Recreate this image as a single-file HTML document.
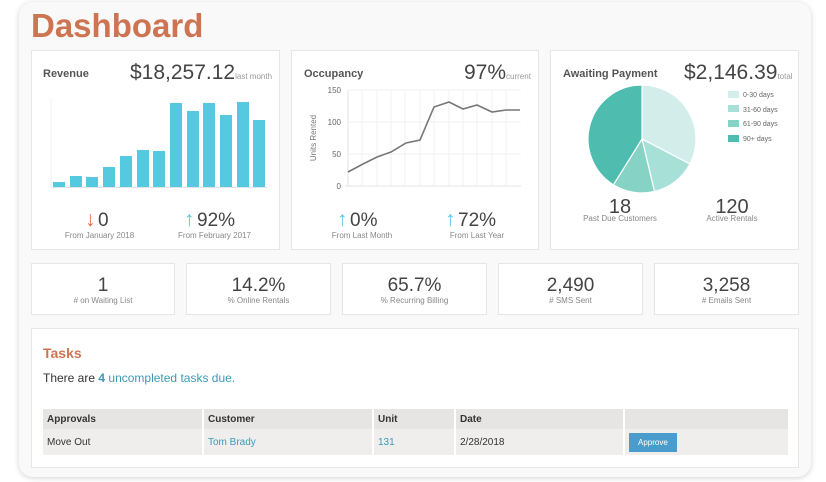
<!DOCTYPE html>
<html><head><style>
body{margin:0;width:826px;height:482px;background:#fff;font-family:"Liberation Sans",sans-serif;position:relative;overflow:hidden}
.frame{position:absolute;left:19px;top:2px;width:792px;height:475px;background:#f9f9f9;border-radius:14px;box-shadow:0 1px 6px rgba(0,0,0,.18)}
h1{position:absolute;left:31px;top:7px;margin:0;font-size:33px;color:#cd7453;font-weight:bold}
.card{position:absolute;background:#fff;border:1px solid #e6e6e6;box-sizing:border-box}
.t{position:absolute;font-size:11px;font-weight:bold;color:#555}
.big{position:absolute;font-size:21px;color:#444}
.big small{font-size:8px;color:#999}
.lbl{position:absolute;font-size:8px;color:#888;text-align:center}
.stat{position:absolute;text-align:center;width:100%;}
.stat b{display:block;font-weight:normal;font-size:19px;line-height:20px;color:#444;margin-top:12px}
.stat span{font-size:8px;color:#888;line-height:10px;display:block}
td,th{font-size:10px;padding:0 4px;text-align:left;color:#333;border-right:2px solid #fff}
svg{position:absolute;overflow:visible}
</style></head><body>
<div class="frame"></div>
<h1>Dashboard</h1>

<div class="card" style="left:31px;top:50px;width:249px;height:200px">
<div class="t" style="left:11px;top:17px">Revenue</div>
<div class="big" style="left:98px;top:10px">$18,257.12<small>last month</small></div>
<svg style="left:-31px;top:-50px" width="826" height="250" font-family="Liberation Sans">
<line x1="50" y1="97" x2="50" y2="187" stroke="#f0f0f0"/><line x1="50" y1="186.5" x2="266" y2="186.5" stroke="#e4e4e4"/>
<g fill="#55c9e0">
<rect x="52" y="181" width="12" height="5"/><rect x="69" y="175" width="12" height="11"/><rect x="85" y="176" width="12" height="10"/><rect x="102" y="166" width="12" height="20"/><rect x="119" y="155" width="12" height="31"/><rect x="136" y="149" width="12" height="37"/><rect x="152" y="150" width="12" height="36"/><rect x="169" y="102" width="12" height="84"/><rect x="186" y="110" width="12" height="76"/><rect x="202" y="102" width="12" height="84"/><rect x="219" y="114" width="12" height="72"/><rect x="236" y="101" width="12" height="85"/><rect x="252" y="119" width="12" height="67"/></g>
<text x="84" y="225" font-size="21" fill="#e8674a">↓</text><text x="97" y="225" font-size="19" fill="#444">0</text>
<text x="183" y="225" font-size="21" fill="#55c9e0">↑</text><text x="196" y="225" font-size="19" fill="#444">92%</text>
</svg>
<div class="lbl" style="left:0;width:135px;top:180px">From January 2018</div>
<div class="lbl" style="left:125px;width:115px;top:180px">From February 2017</div>
</div>

<div class="card" style="left:291px;top:50px;width:248px;height:200px">
<div class="t" style="left:12px;top:17px">Occupancy</div>
<div class="big" style="left:172px;top:10px">97%<small>current</small></div>
<svg style="left:-291px;top:-50px" width="826" height="250" font-family="Liberation Sans">
<g stroke="#f2f2f2"><line x1="347" y1="89" x2="520" y2="89"/><line x1="347" y1="121" x2="520" y2="121"/><line x1="347" y1="153" x2="520" y2="153"/>
<line x1="361" y1="89" x2="361" y2="185"/><line x1="376" y1="89" x2="376" y2="185"/><line x1="390" y1="89" x2="390" y2="185"/><line x1="404" y1="89" x2="404" y2="185"/><line x1="419" y1="89" x2="419" y2="185"/><line x1="433" y1="89" x2="433" y2="185"/><line x1="448" y1="89" x2="448" y2="185"/><line x1="462" y1="89" x2="462" y2="185"/><line x1="476" y1="89" x2="476" y2="185"/><line x1="491" y1="89" x2="491" y2="185"/><line x1="505" y1="89" x2="505" y2="185"/></g>
<line x1="347" y1="89" x2="347" y2="185" stroke="#e4e4e4"/><line x1="344" y1="185" x2="520" y2="185" stroke="#e4e4e4"/>
<g font-size="8" fill="#666" text-anchor="end"><text x="340" y="92">150</text><text x="340" y="124">100</text><text x="340" y="156">50</text><text x="340" y="188">0</text></g>
<text transform="translate(315,137) rotate(-90)" font-size="8" fill="#777" text-anchor="middle">Units Rented</text>
<polyline fill="none" stroke="#777" stroke-width="1.6" points="347,171 362,163 376,156 390,151 405,142 419,139 433,106 448,101 462,108 476,104 491,111 505,109 519,109"/>
<text x="336" y="225" font-size="21" fill="#55c9e0">↑</text><text x="349" y="225" font-size="19" fill="#444">0%</text>
<text x="444" y="225" font-size="21" fill="#55c9e0">↑</text><text x="457" y="225" font-size="19" fill="#444">72%</text>
</svg>
<div class="lbl" style="left:20px;width:100px;top:180px">From Last Month</div>
<div class="lbl" style="left:135px;width:100px;top:180px">From Last Year</div>
</div>

<div class="card" style="left:550px;top:50px;width:249px;height:200px">
<div class="t" style="left:12px;top:17px">Awaiting Payment</div>
<div class="big" style="left:133px;top:10px">$2,146.39<small>total</small></div>
<svg style="left:-550px;top:-50px" width="826" height="250" font-family="Liberation Sans">
<g stroke="#fff" stroke-width="1.2">
<path d="M641,138 L641,84 A54,54 0 0 1 688.9,163 Z" fill="#d3eeea"/>
<path d="M641,138 L688.9,163 A54,54 0 0 1 653.5,190.5 Z" fill="#a6e0d6"/>
<path d="M641,138 L653.5,190.5 A54,54 0 0 1 612.4,183.8 Z" fill="#86d3c6"/>
<path d="M641,138 L612.4,183.8 A54,54 0 0 1 641,84 Z" fill="#4fbcb0"/></g>
<g font-size="7" fill="#666"><rect x="727" y="90" width="11" height="7" fill="#d3eeea"/><text x="742" y="96">0-30 days</text>
<rect x="727" y="104" width="11" height="7" fill="#a6e0d6"/><text x="742" y="111">31-60 days</text>
<rect x="727" y="119" width="11" height="7" fill="#86d3c6"/><text x="742" y="125">61-90 days</text>
<rect x="727" y="134" width="11" height="7" fill="#4fbcb0"/><text x="742" y="140">90+ days</text></g>
<text x="619" y="212" font-size="20" fill="#444" text-anchor="middle">18</text>
<text x="731" y="212" font-size="20" fill="#444" text-anchor="middle">120</text>
</svg>
<div class="lbl" style="left:19px;width:100px;top:163px">Past Due Customers</div>
<div class="lbl" style="left:131px;width:100px;top:163px">Active Rentals</div>
</div>

<div class="card" style="left:31px;top:263px;width:144px;height:52px"><div class="stat"><b>1</b><span># on Waiting List</span></div></div>
<div class="card" style="left:186px;top:263px;width:145px;height:52px"><div class="stat"><b>14.2%</b><span>% Online Rentals</span></div></div>
<div class="card" style="left:342px;top:263px;width:145px;height:52px"><div class="stat"><b>65.7%</b><span>% Recurring Billing</span></div></div>
<div class="card" style="left:498px;top:263px;width:145px;height:52px"><div class="stat"><b>2,490</b><span># SMS Sent</span></div></div>
<div class="card" style="left:654px;top:263px;width:145px;height:52px"><div class="stat"><b>3,258</b><span># Emails Sent</span></div></div>

<div class="card" style="left:31px;top:328px;width:768px;height:140px">
<div style="position:absolute;left:11px;top:16px;font-size:14px;font-weight:bold;color:#cd7453">Tasks</div>
<div style="position:absolute;left:11px;top:42px;font-size:12px;color:#333">There are <b style="color:#3b9bb5">4</b> <span style="color:#3b9bb5">uncompleted tasks due.</span></div>
<table style="position:absolute;left:11px;top:80px;width:745px;border-collapse:collapse">
<tr style="background:#e6e5e3;height:20px"><th style="width:151px">Approvals</th><th style="width:160px">Customer</th><th style="width:72px">Unit</th><th style="width:159px">Date</th><th style="border:0"></th></tr>
<tr style="background:#efeeec;height:26px"><td>Move Out</td><td style="color:#3b9bb5">Tom Brady</td><td style="color:#3b9bb5">131</td><td>2/28/2018</td><td style="border:0"><span style="display:inline-block;background:#4a9ccc;color:#fff;font-size:8px;padding:5px 9px">Approve</span></td></tr>
</table>
</div>
</body></html>
